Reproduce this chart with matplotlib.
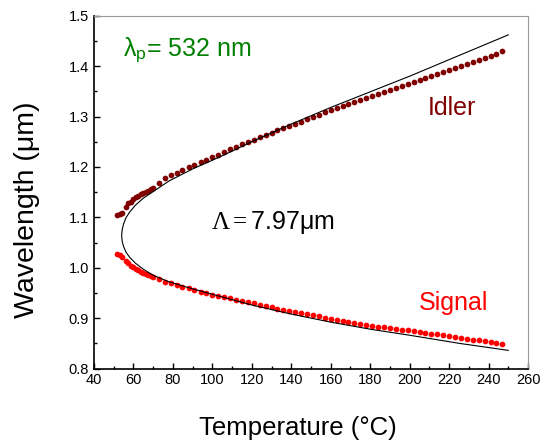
#!/usr/bin/env python3
import matplotlib
matplotlib.use("Agg")
import matplotlib.pyplot as plt
from matplotlib.ticker import MultipleLocator, FormatStrFormatter

plt.rcParams['font.family'] = ['Liberation Sans', 'DejaVu Sans']
plt.rcParams['mathtext.fontset'] = 'custom'
plt.rcParams['mathtext.rm'] = 'Liberation Serif'
plt.rcParams['mathtext.it'] = 'Liberation Serif:italic'
plt.rcParams['mathtext.sf'] = 'Liberation Sans'

# measured points (temperature in C, wavelength in um)
temp_meas = [51.8, 53.2, 54.4, 56.0, 57.4, 58.6, 59.9, 61.1, 62.5, 63.7,
             65.0, 66.2, 67.4, 68.7, 70.1, 72.9, 76.0, 78.9, 81.9, 84.8,
             88.1, 90.7, 94.1,
             97, 100, 103, 106, 109, 112, 115, 118, 121, 124, 127, 130,
             133, 136, 139, 142, 145, 148, 151, 154, 157, 160, 163, 166,
             169, 172, 175, 178, 181, 184, 187, 190, 193, 196, 199, 202,
             205, 208, 211, 214, 217, 220, 223, 226, 229, 232, 235, 238,
             241, 244, 247]
idler_meas = [1.105, 1.106, 1.108, 1.121, 1.128, 1.131, 1.136, 1.141, 1.143, 1.146,
              1.148, 1.150, 1.153, 1.156, 1.159, 1.169, 1.177, 1.183, 1.188, 1.194,
              1.199, 1.204, 1.209,
              1.213, 1.219, 1.224, 1.230, 1.235, 1.240, 1.245, 1.250, 1.254, 1.259,
              1.264, 1.268, 1.273, 1.277, 1.282, 1.286, 1.290, 1.295, 1.299, 1.303,
              1.308, 1.312, 1.316, 1.320, 1.325, 1.329, 1.333, 1.337, 1.341, 1.345,
              1.349, 1.353, 1.357, 1.361, 1.365, 1.369, 1.373, 1.377, 1.381, 1.385,
              1.389, 1.393, 1.397, 1.401, 1.405, 1.409, 1.413, 1.417, 1.421, 1.425,
              1.429]
signal_meas = [1.027, 1.025, 1.022, 1.014, 1.009, 1.004, 1.001, 0.998, 0.995, 0.992,
               0.990, 0.987, 0.986, 0.984, 0.982, 0.977, 0.972, 0.969, 0.966, 0.962,
               0.959, 0.956, 0.951,
               0.949, 0.946, 0.944, 0.941, 0.939, 0.936, 0.934, 0.931, 0.929, 0.926,
               0.924, 0.922, 0.919, 0.917, 0.915, 0.913, 0.910, 0.908, 0.906, 0.904,
               0.901, 0.899, 0.897, 0.895, 0.893, 0.891, 0.889, 0.887, 0.885, 0.883,
               0.882, 0.880, 0.879, 0.877, 0.876, 0.874, 0.872, 0.871, 0.869, 0.868,
               0.866, 0.864, 0.862, 0.861, 0.859, 0.857, 0.856, 0.854, 0.852, 0.851,
               0.849]

# theoretical tuning curve
temp_th = [54.0, 54.3, 55.0, 56.2, 58, 61, 65, 70, 78, 90, 105, 120, 140,
           160, 180, 200, 225, 250]
idler_th = [1.064, 1.076, 1.087, 1.099, 1.110, 1.124, 1.138, 1.151, 1.172,
            1.196, 1.222, 1.250, 1.285, 1.318, 1.349, 1.380, 1.421, 1.462]
signal_th = [1.064, 1.052, 1.042, 1.031, 1.021, 1.009, 0.997, 0.985, 0.972,
             0.958, 0.942, 0.926, 0.908, 0.892, 0.878, 0.866, 0.850, 0.836]

fig = plt.figure(figsize=(5.44, 4.45), dpi=100)
ax = fig.add_axes([0.1728, 0.1719, 0.7978, 0.7928])

# join both branches through the turning point
line_t = temp_th[::-1] + temp_th[1:]
line_w = signal_th[::-1] + idler_th[1:]
ax.plot(line_t, line_w, color='black', lw=0.8, zorder=3)

ax.scatter(temp_meas, idler_meas, s=17, color='#800000', lw=0, zorder=2)
ax.scatter(temp_meas, signal_meas, s=17, color='#ff0000', lw=0, zorder=2)

ax.set_xlim(40, 260)
ax.set_ylim(0.8, 1.5)
ax.xaxis.set_major_locator(MultipleLocator(20))
ax.xaxis.set_minor_locator(MultipleLocator(10))
ax.yaxis.set_major_locator(MultipleLocator(0.1))
ax.yaxis.set_minor_locator(MultipleLocator(0.05))
ax.yaxis.set_major_formatter(FormatStrFormatter('%.1f'))
ax.tick_params(which='both', direction='in', top=False, right=False,
               labelsize=10.5, width=1)
ax.tick_params(which='major', length=4.5)
ax.tick_params(which='minor', length=2.5)

for side in ['left', 'bottom']:
    ax.spines[side].set_linewidth(1.2)
for side in ['top', 'right']:
    ax.spines[side].set_color('#999999')
    ax.spines[side].set_linewidth(0.8)

ax.set_xlabel('Temperature (°C)', fontsize=18.5)
ax.set_ylabel('Wavelength (μm)', fontsize=20.5)
ax.xaxis.set_label_coords(0.47, -0.135)
ax.yaxis.set_label_coords(-0.124, 0.449)

ax.text(54.7, 1.432, r'λ$_{\mathsf{p}}$= 532 nm', color='#008000',
        fontsize=18, va='center', ha='left')
ax.text(130.5, 1.077, r'$\Lambda = $7.97μm', color='black', fontsize=18,
        ha='center', va='baseline')
ax.text(221.5, 1.303, 'Idler', color='#800000', fontsize=18,
        ha='center', va='baseline')
ax.text(222, 0.916, 'Signal', color='#ff0000', fontsize=18,
        ha='center', va='baseline')

plt.savefig('out.png', dpi=100)
